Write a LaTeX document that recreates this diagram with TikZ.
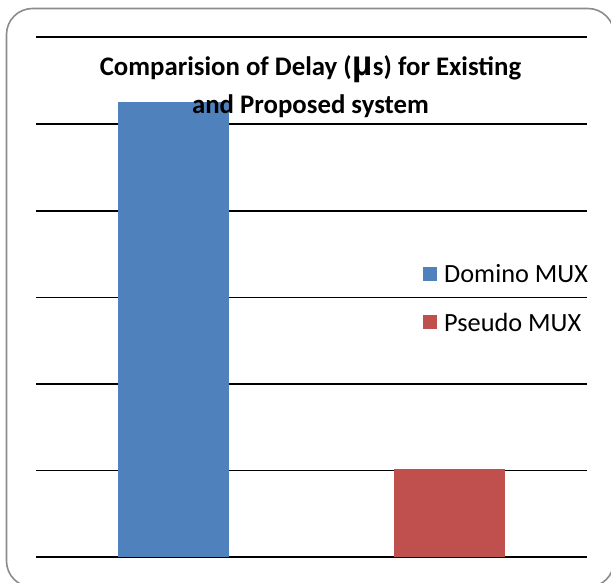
\documentclass[tikz,border=0pt]{standalone}
\usepackage{fontspec}
\setmainfont{Carlito}
\newfontfamily\symfont{Liberation Sans}
\definecolor{dominoblue}{HTML}{4F81BD}
\definecolor{pseudored}{HTML}{C0504D}
\definecolor{framegray}{HTML}{8C8C8C}
\begin{document}
\begin{tikzpicture}[x=1pt,y=-1pt,
  gridline/.style={draw=black,line width=1.8pt},
  legkey/.style={minimum size=14pt,inner sep=0pt},
  legtext/.style={anchor=west,font=\fontsize{26.3}{30}\selectfont,inner sep=0pt},
  titletext/.style={align=center,font=\bfseries\fontsize{26.8}{38}\selectfont,inner sep=0pt}]
  \useasboundingbox (0,0) rectangle (611,583);
  \fill[white] (0,0) rectangle (611,583);
  % outer chart frame
  \draw[framegray,line width=1.6pt,rounded corners=26pt] (6.5,8.5) rectangle (614,587);
  % horizontal grid lines
  \foreach \yy in {37,124,211,297.5,384,470.5,557}
    \draw[gridline] (36,\yy) -- (587,\yy);
  % bars
  \fill[dominoblue] (118,102) rectangle (229,557);
  \fill[pseudored] (394,469) rectangle (505,557);
  % title
  \node[titletext] (title) at (310.5,87) {Comparision of Delay (\kern1pt{\symfont\bfseries\fontsize{35}{35}\selectfont\textmu}s) for Existing\\and Proposed system};
  % legend
  \node[legkey,fill=dominoblue] (k1) at (430,274) {};
  \node[legtext] (t1) at (444,274) {Domino MUX};
  \node[legkey,fill=pseudored] (k2) at (430,322) {};
  \node[legtext] (t2) at (444,322) {Pseudo MUX};
\end{tikzpicture}
\end{document}
